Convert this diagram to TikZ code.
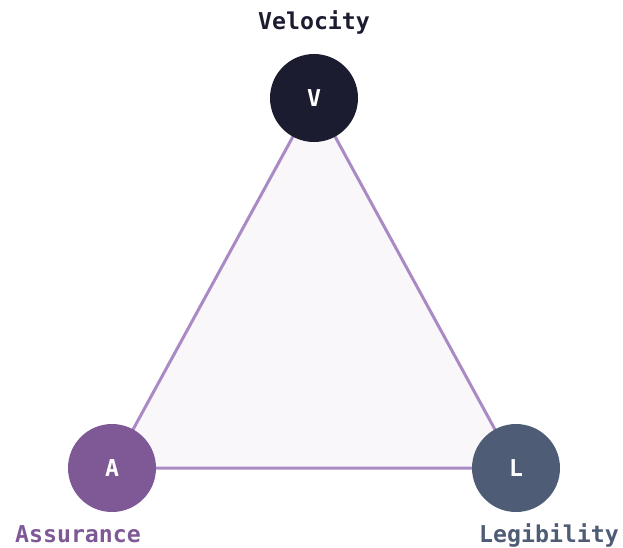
\documentclass[tikz,border=0pt]{standalone}
\usepackage{fontspec}
\setmonofont{DejaVu Sans Mono}
\usepackage{tikz}
\usetikzlibrary{backgrounds}
\definecolor{velocity}{HTML}{1C1C30}
\definecolor{assurance}{HTML}{7F5995}
\definecolor{legibility}{HTML}{4E5D75}
\definecolor{edge}{HTML}{A98AC5}
\definecolor{face}{HTML}{FAF7FB}

\tikzset{
    vertex/.style={circle, inner sep=0pt, minimum size=66pt, text=white,
        font=\ttfamily\bfseries\fontsize{17.4}{20}\selectfont},
    caption/.style={anchor=base, font=\ttfamily\bfseries\fontsize{17.4}{20}\selectfont}
}

\begin{document}
\begin{tikzpicture}[x=0.75pt, y=-0.75pt]
    \useasboundingbox (0,0) rectangle (623,547);

    % Vertices
    \node[vertex, fill=velocity]   (V) at (314,98)  {V};
    \node[vertex, fill=assurance]  (A) at (112,468) {A};
    \node[vertex, fill=legibility] (L) at (516,468) {L};

    % Captions
    \node[caption, text=velocity]   (Vcap) at (314,29)  {Velocity};
    \node[caption, text=assurance]  (Acap) at (78,542)  {Assurance};
    \node[caption, text=legibility] (Lcap) at (549,542) {Legibility};

    % Triangle
    \begin{scope}[on background layer]
        \draw[line width=2.25pt, line join=round, color=edge, fill=face]
            (V.center) -- (L.center) -- (A.center) -- cycle;
    \end{scope}
\end{tikzpicture}
\end{document}
